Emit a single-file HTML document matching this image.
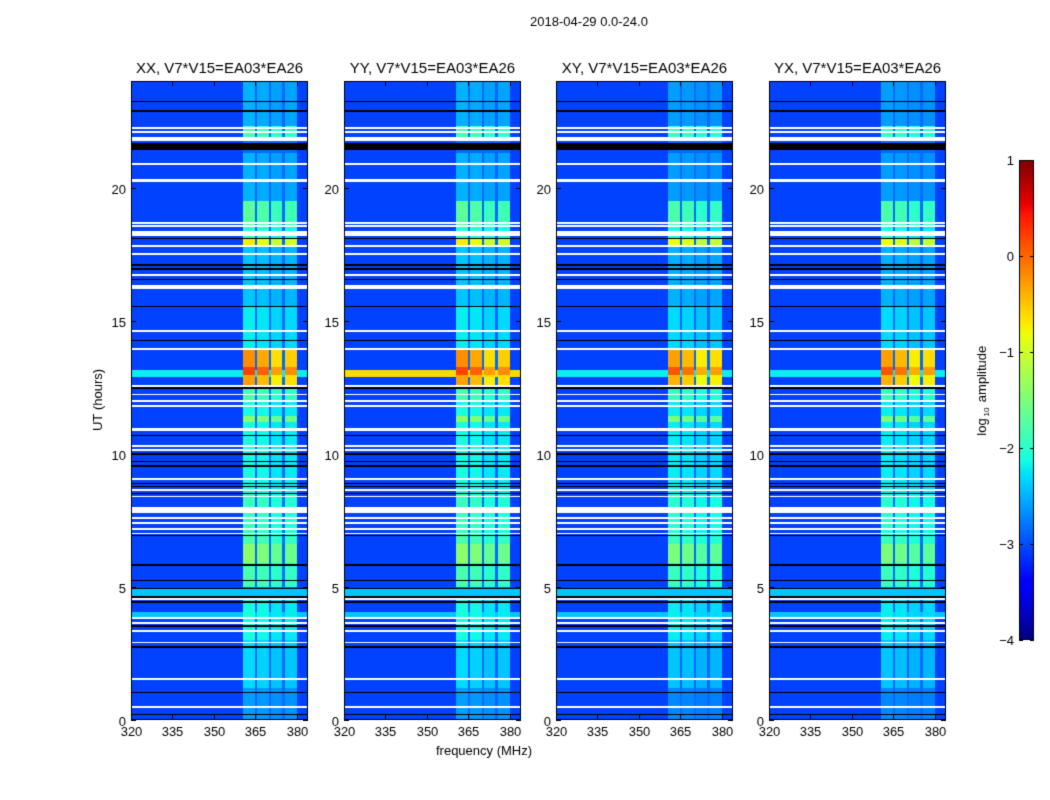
<!DOCTYPE html>
<html><head><meta charset="utf-8"><style>
body{margin:0;background:#fff;width:1050px;height:800px;overflow:hidden;font-family:"Liberation Sans",sans-serif;}
#c{position:absolute;left:0;top:0;}
</style></head><body>
<canvas id="c" width="1050" height="800"></canvas>
<script>
// ---- data ----
const panelTitles = ["XX, V7*V15=EA03*EA26","YY, V7*V15=EA03*EA26","XY, V7*V15=EA03*EA26","YX, V7*V15=EA03*EA26"];
const xTicks = [320,335,350,365,380];
const yTicks = [0,5,10,15,20];
const cbTicks = [-4,-3,-2,-1,0,1];
const baseLevel = -3.05;
// sub-band frequency ranges (MHz) and relative strengths
const bandStart = [360.5,365.5,370.5,375.6];
const bandEnd   = [364.8,369.8,374.5,380.0];
const bandGain  = [1.0,0.95,0.85,0.88];
// RFI band level vs time [startHour, endHour, log10 amplitude]
const bandSegStart = [0,1.2,3.0,5.0,5.9,6.6,7.0,8.5,11.2,11.4,12.0,12.6,12.95,13.25,13.9,15.5,17.8,18.1,18.6,19.5,21.9,22.3];
const bandSegEnd   = [1.2,3.0,4.5,5.9,6.6,7.0,8.5,11.2,11.4,12.0,12.6,12.95,13.25,13.9,15.5,17.8,18.1,18.6,19.5,21.3,22.3,24];
const bandSegLevel = [-2.6,-2.3,-2.1,-1.8,-1.4,-1.8,-1.9,-2.1,-1.4,-2.1,-1.8,-0.3,0.2,-0.2,-2.2,-2.4,-0.7,-2.0,-1.7,-2.5,-1.8,-2.5];
// broadband elevated rows [start, end, level]
const wideStart = [3.85,4.6,12.9];
const wideEnd   = [4.04,4.94,13.15];
const wideLevel = [-2.4,-2.4,-2.2];
const wideLevelYY = [-2.4,-2.4,-0.6];
// flagged rows
const whiteStart = [22.2,22.06,21.81,21.73,20.85,20.2,18.63,18.52,18.18,17.77,17.47,16.69,16.2,14.58,13.9,12.52,12.2,11.96,11.77,10.85,10.27,10.12,9.02,8.61,8.37,7.76,7.56,7.38,7.15,6.97,4.52,3.8,3.62,3.32,2.88,1.5,0.45];
const whiteEnd   = [22.28,22.14,21.89,21.81,20.91,20.33,18.69,18.58,18.37,17.83,17.53,16.75,16.32,14.64,13.96,12.57,12.26,12.02,11.83,10.98,10.33,10.18,9.08,8.67,8.43,8.01,7.62,7.44,7.21,7.03,4.58,3.86,3.68,3.38,2.94,1.56,0.51];
const blackStart = [23.2,22.85,21.42,18.07,17.07,16.92,16.51,15.51,14.23,12.44,10.67,9.96,9.68,9.52,8.86,8.74,8.48,6.9,5.8,5.22,4.91,4.59,4.41,3.51,2.72,1.0,0.17];
const blackEnd   = [23.26,22.91,21.67,18.12,17.12,16.97,16.56,15.56,14.28,12.49,10.72,10.01,9.73,9.57,8.91,8.79,8.53,6.95,5.85,5.27,4.96,4.64,4.46,3.56,2.77,1.05,0.22];

// ---- geometry ----
const panelX = [131,344,556,769];
const PW = 177, PT = 81, PB = 720;
const F0 = 320, F1 = 384;
const cv = document.getElementById('c'), ctx = cv.getContext('2d');
function yOf(h){return PB-(h/24)*(PB-PT);}
function hOf(y){return (PB-y)/(PB-PT)*24;}
function fOf(px){return F0+(px/PW)*(F1-F0);}
function seg(pts,t){for(let i=1;i<pts.length;i++){if(t<=pts[i][0]){const a=pts[i-1],b=pts[i];return a[1]+(b[1]-a[1])*(t-a[0])/(b[0]-a[0]);}}return pts[pts.length-1][1];}
const JR=[[0,0],[0.35,0],[0.66,1],[0.89,1],[1,0.5]];
const JG=[[0,0],[0.125,0],[0.375,1],[0.64,1],[0.91,0],[1,0]];
const JB=[[0,0.5],[0.11,1],[0.34,1],[0.65,0],[1,0]];
function jet(t){t=Math.max(0,Math.min(1,t));return [seg(JR,t)*255|0,seg(JG,t)*255|0,seg(JB,t)*255|0];}
function col(v){return jet((v+4)/5);}
function inAny(h,s,e){for(let i=0;i<s.length;i++) if(h>=s[i]&&h<e[i]) return true; return false;}

ctx.fillStyle='#fff';ctx.fillRect(0,0,1050,800);
const H = PB-PT;
panelX.forEach((x0,p)=>{
  const img = ctx.createImageData(PW,H);
  const wl = p===1?wideLevelYY:wideLevel;
  for(let py=0;py<H;py++){
    const h = hOf(PT+py+0.5);
    let bl = baseLevel;
    for(let i=0;i<bandSegStart.length;i++) if(h>=bandSegStart[i]&&h<bandSegEnd[i]){bl=bandSegLevel[i];}
    if(p>=2) bl = bl-0.1;
    let wide=null;
    for(let i=0;i<wideStart.length;i++) if(h>=wideStart[i]&&h<wideEnd[i]) wide=wl[i];
    const white=inAny(h,whiteStart,whiteEnd), black=inAny(h,blackStart,blackEnd);
    for(let px=0;px<PW;px++){
      const f=fOf(px+0.5);
      let v = wide!==null?wide:baseLevel;
      for(let b=0;b<bandStart.length;b++) if(f>=bandStart[b]&&f<bandEnd[b]){
        const lv = baseLevel+(bl-baseLevel)*bandGain[b]; if(lv>v) v=lv;}
      if(f>=bandStart[0]&&f<bandEnd[3] && v<baseLevel+0.2) v=baseLevel+0.2;
      let c = col(v);
      if(white) c=[255,255,255]; else if(black) c=[0,0,0];
      const k=(py*PW+px)*4; img.data[k]=c[0];img.data[k+1]=c[1];img.data[k+2]=c[2];img.data[k+3]=255;
    }
  }
  ctx.putImageData(img,x0,PT);
  ctx.strokeStyle='#000';ctx.lineWidth=1;ctx.strokeRect(x0+0.5,PT+0.5,PW-1,H-1);
  ctx.fillStyle='#000';ctx.font='15px "Liberation Sans", sans-serif';ctx.textAlign='center';
  ctx.fillText(panelTitles[p],x0+PW/2,73);
  ctx.font='13px "Liberation Sans", sans-serif';
  xTicks.forEach(t=>{const x=Math.round(x0+(t-F0)/(F1-F0)*PW)+0.5;
    ctx.beginPath();ctx.moveTo(x,PB);ctx.lineTo(x,PB-5);ctx.moveTo(x,PT);ctx.lineTo(x,PT+5);ctx.stroke();
    ctx.fillText(String(t),x,736);});
  ctx.textAlign='right';
  yTicks.forEach(t=>{const y=Math.round(yOf(t))+0.5;
    ctx.beginPath();ctx.moveTo(x0,y);ctx.lineTo(x0+5,y);ctx.moveTo(x0+PW,y);ctx.lineTo(x0+PW-5,y);ctx.stroke();
    ctx.fillText(String(t),x0-5,y+5);});
});
ctx.fillStyle='#000';ctx.textAlign='center';ctx.font='13px "Liberation Sans", sans-serif';
ctx.fillText('2018-04-29 0.0-24.0',589,26);
ctx.fillText('frequency (MHz)',484,755);
ctx.save();ctx.translate(102,400);ctx.rotate(-Math.PI/2);ctx.fillText('UT (hours)',0,0);ctx.restore();
// colorbar
const CX=1019,CW=15,CT=160,CB=640;
for(let y=CT;y<CB;y++){const v=1-(y-CT)/(CB-CT)*5;const c=col(v);ctx.fillStyle=`rgb(${c[0]},${c[1]},${c[2]})`;ctx.fillRect(CX,y,CW,1);}
ctx.strokeStyle='#000';ctx.strokeRect(CX+0.5,CT+0.5,CW-1,CB-CT-1);
ctx.fillStyle='#000';ctx.textAlign='right';
cbTicks.forEach(t=>{const y=Math.round(CT+(1-t)/5*(CB-CT))+0.5;
  ctx.beginPath();ctx.moveTo(CX+CW-4,y);ctx.lineTo(CX+CW,y);ctx.moveTo(CX,y);ctx.lineTo(CX+4,y);ctx.stroke();
  ctx.fillText(t<0?'\u2212'+(-t):String(t),1014,y+4);});
ctx.save();ctx.translate(986,400);ctx.rotate(-Math.PI/2);ctx.textAlign='center';
ctx.fillText('log',-27,0);ctx.font='8px "Liberation Sans", sans-serif';ctx.fillText('10',-12,3);
ctx.font='13px "Liberation Sans", sans-serif';ctx.fillText('amplitude',26,0);ctx.restore();
</script>
</body></html>
